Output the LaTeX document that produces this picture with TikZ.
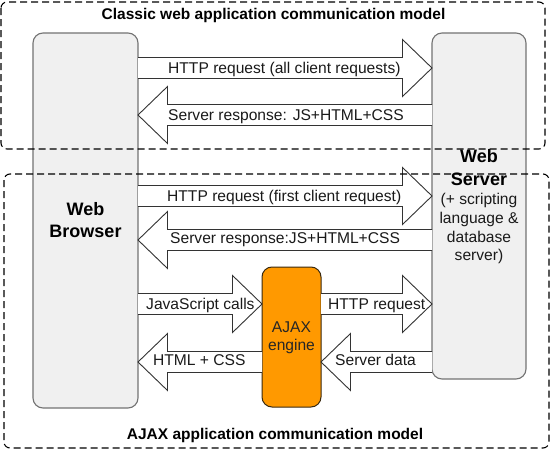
\documentclass[tikz,border=0pt]{standalone}
\usepackage{fontspec}
\setmainfont{Liberation Sans}
\usetikzlibrary{calc}
\definecolor{boxfill}{HTML}{F0F0F0}
\definecolor{boxborder}{HTML}{737373}
\definecolor{enginefill}{HTML}{FF9900}
\definecolor{enginebd}{HTML}{3A2A10}
\definecolor{arrline}{HTML}{333333}
\definecolor{labeltext}{HTML}{1A1A1A}
\tikzset{
  box/.style={draw=boxborder, fill=boxfill, rounded corners=10pt, line width=1.1pt, inner sep=0pt, outer sep=0pt},
  engine/.style={draw=enginebd, fill=enginefill, rounded corners=10pt, line width=1pt, inner sep=0pt, outer sep=0pt},
  fat/.style={draw=arrline, fill=white, line width=0.9pt, line join=miter},
  lbl/.style={font=\fontsize{15.6}{18}\selectfont, text=labeltext, inner sep=0pt, anchor=base west},
  ctr/.style={font=\fontsize{15.6}{18}\selectfont, text=labeltext, inner sep=0pt, anchor=base},
  big/.style={font=\fontsize{18}{22}\selectfont\bfseries, text=black, inner sep=0pt, anchor=base},
  ttl/.style={font=\fontsize{15.5}{18}\selectfont\bfseries, text=black, inner sep=0pt, anchor=base},
  region/.style={draw=black, dash pattern=on 7pt off 4pt, line width=1.1pt, rounded corners=6pt},
}
\newcommand\fatR[2]{\path[fat] ($(#1)+(0,-10.5)$) -- ($(#2)+(-29.5,-10.5)$) -- ($(#2)+(-29.5,-28.5)$) -- (#2) -- ($(#2)+(-29.5,28.5)$) -- ($(#2)+(-29.5,10.5)$) -- ($(#1)+(0,10.5)$);}
\newcommand\fatL[2]{\path[fat] ($(#1)+(0,-10.5)$) -- ($(#2)+(29.5,-10.5)$) -- ($(#2)+(29.5,-28.5)$) -- (#2) -- ($(#2)+(29.5,28.5)$) -- ($(#2)+(29.5,10.5)$) -- ($(#1)+(0,10.5)$);}
\begin{document}
\begin{tikzpicture}[x=1pt,y=-1pt]
\useasboundingbox (0,0) rectangle (550,450);
\fill[white] (0,0) rectangle (550,450);

% main boxes
\node[box, minimum width=105pt, minimum height=375pt] (browser) at (85.5,220.5) {};
\node[box, minimum width=94pt, minimum height=346pt] (server) at (479,206) {};
\node[engine, minimum width=59pt, minimum height=140pt] (ajax) at (291.5,337) {};

% arrow end points
\coordinate (a1t) at (browser.east |- 0,68);  \coordinate (a1p) at (server.west |- 0,68);
\coordinate (a2p) at (browser.east |- 0,115); \coordinate (a2t) at (server.west |- 0,115);
\coordinate (a3t) at (browser.east |- 0,196); \coordinate (a3p) at (server.west |- 0,196);
\coordinate (a4p) at (browser.east |- 0,240); \coordinate (a4t) at (server.west |- 0,240);
\coordinate (a5t) at (browser.east |- 0,304); \coordinate (a5p) at (ajax.west |- 0,304);
\coordinate (a6p) at (browser.east |- 0,362); \coordinate (a6t) at (ajax.west |- 0,362);
\coordinate (a7t) at (ajax.east |- 0,304);    \coordinate (a7p) at (server.west |- 0,304);
\coordinate (a8p) at (ajax.east |- 0,362);    \coordinate (a8t) at (server.west |- 0,362);

\fatR{a1t}{a1p}
\fatL{a2t}{a2p}
\fatR{a3t}{a3p}
\fatL{a4t}{a4p}
\fatR{a5t}{a5p}
\fatL{a6t}{a6p}
\fatR{a7t}{a7p}
\fatL{a8t}{a8p}

% arrow labels
\node[lbl] (l1) at (168,73) {HTTP request (all client requests)};
\node[lbl] (l2) at (168,120) {Server response: JS+HTML+CSS};
\node[lbl] (l3) at (167,201.5) {HTTP request (first client request)};
\node[lbl] (l4) at (170,243.5) {Server response:JS+HTML+CSS};
\node[lbl] (l5) at (146,309.5) {JavaScript calls};
\node[lbl] (l6) at (153,365.5) {HTML + CSS};
\node[lbl] (l7) at (328,309.5) {HTTP request};
\node[lbl] (l8) at (335,365.5) {Server data};

% box texts
\node[big] (bw1) at (85.5,215) {Web};
\node[big] (bw2) at (85.5,237.5) {Browser};
\node[big] (sv1) at (479,162.5) {Web};
\node[big] (sv2) at (479,185) {Server};
\node[ctr] (sv3) at (479,204) {(+ scripting};
\node[ctr] (sv4) at (479,223) {language \&};
\node[ctr] (sv5) at (479,242) {database};
\node[ctr] (sv6) at (479,260) {server)};
\node[ctr, text=black!85] (aj1) at (291.5,332.5) {AJAX};
\node[ctr, text=black!85] (aj2) at (291.5,350.5) {engine};

% regions
\draw[region] (1,2) rectangle (545,149);
\draw[region] (4,174) rectangle (549,448);
\node[ttl] (t1) at (273.5,19.5) {Classic web application communication model};
\node[ttl] (t2) at (275,439) {AJAX application communication model};
\end{tikzpicture}
\end{document}
